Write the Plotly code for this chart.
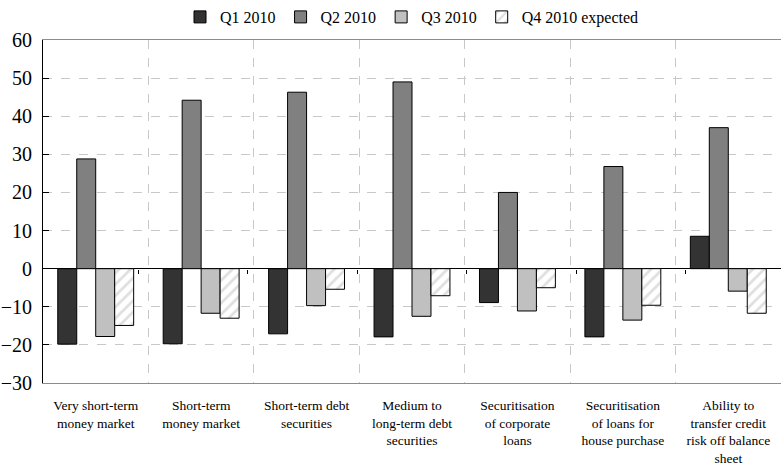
import plotly.graph_objects as go

categories = [
    "Very short-term<br>money market",
    "Short-term<br>money market",
    "Short-term debt<br>securities",
    "Medium to<br>long-term debt<br>securities",
    "Securitisation<br>of corporate<br>loans",
    "Securitisation<br>of loans for<br>house purchase",
    "Ability to<br>transfer credit<br>risk off balance<br>sheet",
]

q1_2010 = [-19.8, -19.7, -17.1, -17.9, -8.9, -17.9, 8.5]
q2_2010 = [28.8, 44.2, 46.3, 49.0, 20.0, 26.8, 37.0]
q3_2010 = [-17.8, -11.7, -9.7, -12.5, -11.1, -13.5, -5.9]
q4_2010_expected = [-14.9, -13.0, -5.4, -7.1, -5.0, -9.6, -11.7]

series = [
    ("Q1 2010", q1_2010, "#333333", None),
    ("Q2 2010", q2_2010, "#808080", None),
    ("Q3 2010", q3_2010, "#c0c0c0", None),
    ("Q4 2010 expected", q4_2010_expected, "white", "/"),
]

FONT = "Liberation Serif, Times New Roman, serif"

fig = go.Figure()
for name, vals, color, pattern in series:
    marker = dict(color=color, line=dict(color="#000000", width=1))
    if pattern:
        marker["pattern"] = dict(shape=pattern, fgcolor="#c0c0c0", bgcolor="white",
                                 size=8, solidity=0.35)
    fig.add_trace(go.Bar(name=name, x=categories, y=vals, marker=marker))

# invisible trace so the overlay axis (ticks on the zero line) gets drawn
fig.add_trace(go.Scatter(x=categories, y=[None] * len(categories), xaxis="x2",
                         showlegend=False, hoverinfo="skip"))

fig.update_layout(
    width=782, height=472,
    barmode="group", bargap=0.28, bargroupgap=0,
    plot_bgcolor="white", paper_bgcolor="white",
    margin=dict(l=43, r=1, t=40, b=89, autoexpand=False),
    font=dict(family=FONT, color="#000000"),
    legend=dict(orientation="h", x=0.5, xanchor="center",
                yref="container", y=1.0, yanchor="top",
                font=dict(size=16), itemwidth=30, traceorder="normal",
                bgcolor="rgba(0,0,0,0)"),
    xaxis=dict(
        tickson="boundaries", showgrid=True, gridcolor="#c8c8c8", griddash="dash",
        gridwidth=1, ticks="", showline=True, linecolor="#8c8c8c", mirror=True,
        tickfont=dict(size=13.5), ticklabelstandoff=10, automargin=False,
    ),
    xaxis2=dict(overlaying="x", anchor="free", position=1 / 3,
                tickson="boundaries", ticks="outside", ticklen=4,
                tickcolor="#000000", showticklabels=False, showgrid=False,
                showline=False, zeroline=False),
    yaxis=dict(
        range=[-30, 60], dtick=10, showgrid=True, gridcolor="#c8c8c8", griddash="dash",
        gridwidth=1, zeroline=True, zerolinecolor="#000000", zerolinewidth=1,
        showline=True, linecolor="#000000", ticks="inside", ticklen=6,
        tickcolor="#000000", tickfont=dict(size=20), ticklabelstandoff=6,
        automargin=False,
    ),
)

fig.write_html("out.html", config={"displayModeBar": False},
               post_script="document.body.style.margin='0';")
